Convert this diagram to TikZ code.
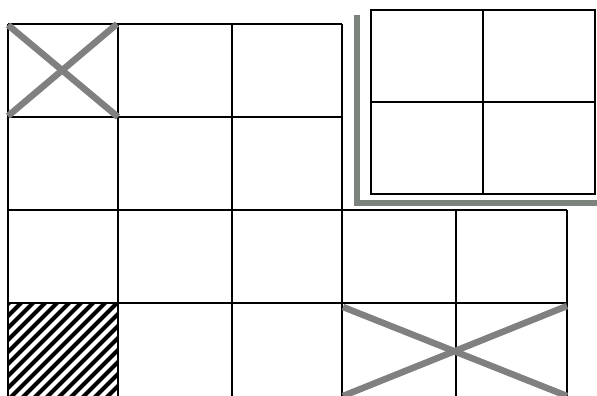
\documentclass[tikz,border=0pt]{standalone}
\definecolor{shadowgray}{RGB}{124,130,124}
\definecolor{crossgray}{RGB}{128,128,128}
\begin{document}
\begin{tikzpicture}[x=1pt,y=-1pt,
  gridline/.style={draw=black,line width=1.4pt},
  cross/.style={draw=crossgray,line width=6.5pt},
  shadow/.style={draw=shadowgray,line width=5.5pt},
  hatch/.style={draw=black,line width=4.2pt}]
\useasboundingbox (0,0) rectangle (597,396);
% hatching in bottom-left cell
\begin{scope}
\clip (8,303) rectangle (118,396);
\foreach \k in {-100,-88,...,130}
  \draw[hatch] (\k,400) -- ++(120,-120);
\end{scope}
% left grid
\draw[gridline] (8,24) -- (342,24);
\draw[gridline] (8,117) -- (342,117);
\draw[gridline] (8,210) -- (567,210);
\draw[gridline] (8,303) -- (567,303);
\foreach \x in {8,118,232,342}
  \draw[gridline] (\x,24) -- (\x,396);
\foreach \x in {456,567}
  \draw[gridline] (\x,210) -- (\x,396);
% top right box
\draw[gridline] (371,10) rectangle (595,194);
\draw[gridline] (483,10) -- (483,194);
\draw[gridline] (371,102) -- (595,102);
% gray L shadow
\draw[shadow] (357,15) -- (357,203) -- (597,203);
% top-left cross
\coordinate (c1) at (8,25);
\coordinate (c2) at (118,117);
\coordinate (c3) at (8,116);
\coordinate (c4) at (117,24);
\draw[cross] (c1) -- (c2);
\draw[cross] (c3) -- (c4);
% bottom-right cross
\coordinate (d1) at (343,307);
\coordinate (d2) at (567,396);
\coordinate (d3) at (343,396);
\coordinate (d4) at (567,306);
\draw[cross] (d1) -- (d2);
\draw[cross] (d3) -- (d4);
\end{tikzpicture}
\end{document}
